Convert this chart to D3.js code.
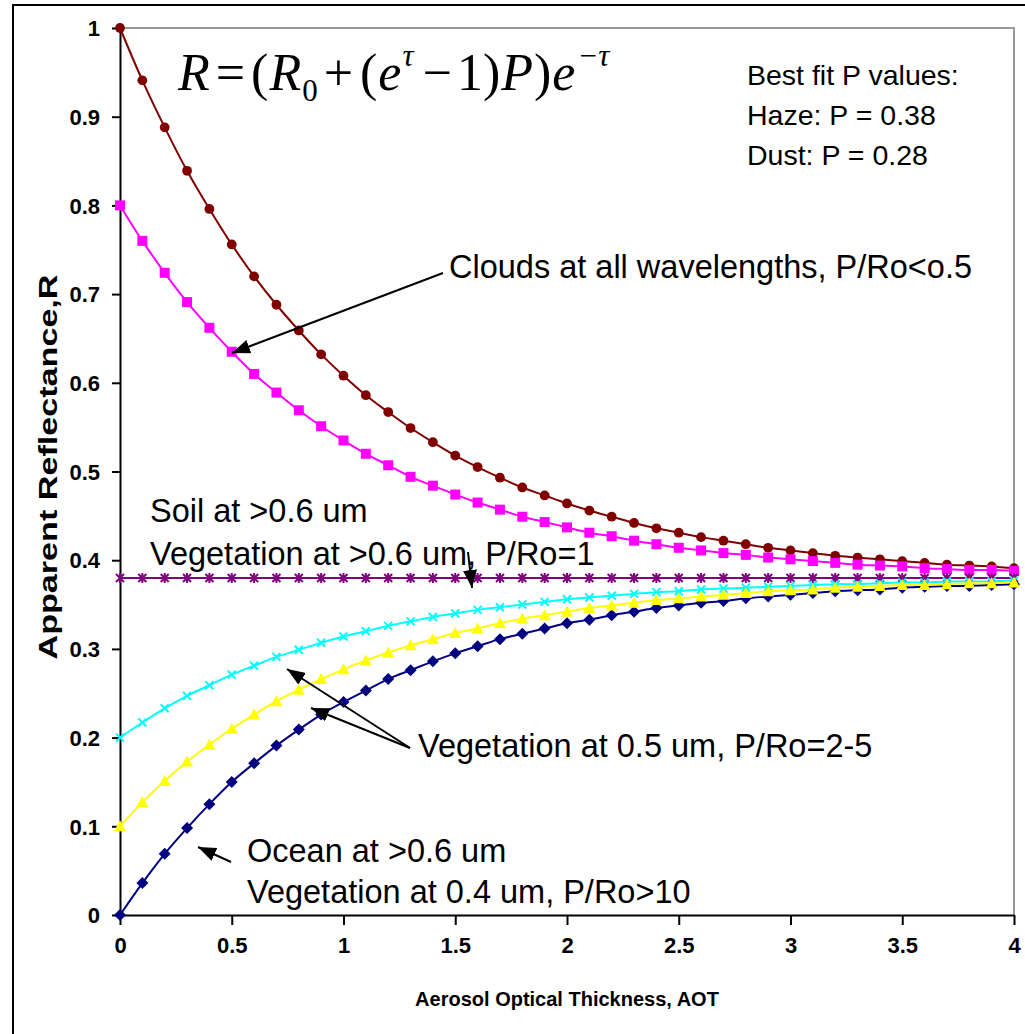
<!DOCTYPE html>
<html>
<head>
<meta charset="utf-8">
<script src="https://cdn.jsdelivr.net/npm/d3@7"></script>
<style>
	body { margin: 0; background: #fff; }
	svg text { font-family: "Liberation Sans", Arial, sans-serif; }
</style>
</head>
<body>
<div id="chart"></div>
<script>
// AOT values along the x axis
var aot = [0, 0.1, 0.2, 0.3, 0.4, 0.5, 0.6, 0.7, 0.8, 0.9, 1, 1.1, 1.2, 1.3, 1.4, 1.5, 1.6, 1.7, 1.8, 1.9,
	2, 2.1, 2.2, 2.3, 2.4, 2.5, 2.6, 2.7, 2.8, 2.9, 3, 3.1, 3.2, 3.3, 3.4, 3.5, 3.6, 3.7, 3.8, 3.9, 4];

var clouds = [1.000, 0.941, 0.888, 0.839, 0.796, 0.756, 0.720, 0.688, 0.659, 0.632, 0.608, 0.586, 0.567, 0.549,
	0.533, 0.518, 0.505, 0.493, 0.482, 0.473, 0.464, 0.456, 0.449, 0.442, 0.436, 0.431, 0.426, 0.422, 0.418,
	0.414, 0.411, 0.408, 0.405, 0.403, 0.401, 0.399, 0.397, 0.395, 0.394, 0.393, 0.391];
var bright = [0.800, 0.760, 0.724, 0.691, 0.662, 0.635, 0.610, 0.589, 0.569, 0.551, 0.535, 0.520, 0.507, 0.494,
	0.484, 0.474, 0.465, 0.457, 0.449, 0.443, 0.437, 0.431, 0.427, 0.422, 0.418, 0.414, 0.411, 0.408, 0.406,
	0.403, 0.401, 0.399, 0.397, 0.395, 0.394, 0.393, 0.391, 0.390, 0.389, 0.389, 0.388];
var soil = [0.38, 0.38, 0.38, 0.38, 0.38, 0.38, 0.38, 0.38, 0.38, 0.38, 0.38, 0.38, 0.38, 0.38, 0.38, 0.38,
	0.38, 0.38, 0.38, 0.38, 0.38, 0.38, 0.38, 0.38, 0.38, 0.38, 0.38, 0.38, 0.38, 0.38, 0.38, 0.38, 0.38,
	0.38, 0.38, 0.38, 0.38, 0.38, 0.38, 0.38, 0.38];
var veg2 = [0.200, 0.217, 0.233, 0.247, 0.259, 0.271, 0.281, 0.291, 0.299, 0.307, 0.314, 0.320, 0.326, 0.331,
	0.336, 0.340, 0.344, 0.347, 0.350, 0.353, 0.356, 0.358, 0.360, 0.362, 0.364, 0.365, 0.367, 0.368, 0.369,
	0.370, 0.371, 0.372, 0.373, 0.373, 0.374, 0.375, 0.375, 0.376, 0.376, 0.376, 0.377];
var veg5 = [0.100, 0.127, 0.151, 0.173, 0.192, 0.210, 0.226, 0.241, 0.254, 0.266, 0.277, 0.287, 0.296, 0.304,
	0.311, 0.318, 0.323, 0.329, 0.334, 0.338, 0.342, 0.346, 0.349, 0.352, 0.355, 0.357, 0.359, 0.361, 0.363,
	0.365, 0.366, 0.367, 0.369, 0.370, 0.371, 0.372, 0.372, 0.373, 0.374, 0.374, 0.375];
var ocean = [0.000, 0.036, 0.069, 0.098, 0.125, 0.150, 0.171, 0.191, 0.209, 0.226, 0.240, 0.253, 0.266, 0.276,
	0.286, 0.295, 0.303, 0.311, 0.317, 0.323, 0.329, 0.333, 0.338, 0.342, 0.346, 0.349, 0.352, 0.354, 0.357,
	0.359, 0.361, 0.363, 0.365, 0.366, 0.367, 0.369, 0.370, 0.371, 0.371, 0.372, 0.373];

var xTicks = [0, 0.5, 1, 1.5, 2, 2.5, 3, 3.5, 4];
var yTicks = [0, 0.1, 0.2, 0.3, 0.4, 0.5, 0.6, 0.7, 0.8, 0.9, 1];

var series = [
	{ values: clouds, color: "#800000", marker: "circle" },
	{ values: bright, color: "#ff00ff", marker: "square" },
	{ values: soil, color: "#800080", marker: "asterisk" },
	{ values: veg2, color: "#00ffff", marker: "x" },
	{ values: ocean, color: "#000080", marker: "diamond" },
	{ values: veg5, color: "#ffff00", marker: "triangle" }
];

var width = 1025, height = 1034;
var plot = { left: 120, right: 1014, top: 28, bottom: 915 };

var svg = d3.select("#chart").append("svg")
	.attr("width", width)
	.attr("height", height);

// outer frame
svg.append("rect")
	.attr("x", 13).attr("y", 5)
	.attr("width", width + 20).attr("height", height + 20)
	.attr("fill", "none").attr("stroke", "#000").attr("stroke-width", 2);

var x = d3.scaleLinear().domain([0, 4]).range([plot.left, plot.right]);
var y = d3.scaleLinear().domain([0, 1]).range([plot.bottom, plot.top]);

// plot area border (grey top/right)
svg.append("path")
	.attr("d", `M${x(0)},${y(1)}H${x(4)}V${y(0)}`)
	.attr("fill", "none").attr("stroke", "#999").attr("stroke-width", 2);

var xAxis = svg.append("g")
	.attr("transform", `translate(0,${y(0)})`)
	.call(d3.axisBottom(x).tickValues(xTicks).tickSize(10).tickSizeOuter(0).tickPadding(12)
		.tickFormat(d => d3.format("")(d)));
var yAxis = svg.append("g")
	.attr("transform", `translate(${x(0)},0)`)
	.call(d3.axisLeft(y).tickValues(yTicks).tickSize(8).tickSizeOuter(0).tickPadding(12)
		.tickFormat(d => d3.format("")(d)));

[xAxis, yAxis].forEach(function(g) {
	g.select(".domain").attr("stroke", "#000").attr("stroke-width", 2);
	g.selectAll(".tick line").attr("stroke", "#000").attr("stroke-width", 2);
	g.selectAll(".tick text")
		.attr("fill", "#000")
		.style("font-family", "'Liberation Sans', Arial, sans-serif")
		.style("font-size", "22px")
		.style("font-weight", "bold");
});
yAxis.selectAll(".tick text").attr("dy", "0.35em");

// axis titles
svg.append("text")
	.attr("x", 567).attr("y", 1006)
	.attr("text-anchor", "middle")
	.style("font-size", "20px").style("font-weight", "bold")
	.text("Aerosol Optical Thickness, AOT");
svg.append("text")
	.attr("transform", "translate(57,467) rotate(-90)")
	.attr("text-anchor", "middle")
	.attr("textLength", 385)
	.attr("lengthAdjust", "spacingAndGlyphs")
	.style("font-size", "25px").style("font-weight", "bold")
	.text("Apparent Reflectance,R");

var line = d3.line()
	.x((d, i) => x(aot[i]))
	.y(d => y(d))
	.curve(d3.curveCatmullRom);

var markerPath = {
	circle: d3.symbol(d3.symbolCircle, 75)(),
	square: "M-5,-5H5V5H-5Z",
	diamond: "M0,-6L6,0L0,6L-6,0Z",
	triangle: "M0,-6L6,5H-6Z",
	x: "M-4,-4L4,4M-4,4L4,-4",
	asterisk: "M-4,-4L4,4M-4,4L4,-4M0,-5V5"
};

series.forEach(function(s) {
	var g = svg.append("g");
	g.append("path")
		.attr("d", line(s.values))
		.attr("fill", "none")
		.attr("stroke", s.color)
		.attr("stroke-width", 2);
	var stroked = s.marker === "x" || s.marker === "asterisk";
	g.selectAll("path.pt")
		.data(s.values)
		.join("path")
		.attr("class", "pt")
		.attr("transform", (d, i) => `translate(${x(aot[i])},${y(d)})`)
		.attr("d", markerPath[s.marker])
		.attr("fill", stroked ? "none" : s.color)
		.attr("stroke", stroked ? s.color : "none")
		.attr("stroke-width", 2);
});

// equation: pieces placed one after another, gap = space before each piece
var eqParts = [
	{ t: "R", gap: 0, i: true },
	{ t: "=", gap: 6 },
	{ t: "(", gap: 6 },
	{ t: "R", gap: 1, i: true },
	{ t: "0", gap: 1, sub: true },
	{ t: "+", gap: 6 },
	{ t: "(", gap: 7 },
	{ t: "e", gap: 1, i: true },
	{ t: "τ", gap: 1, sup: true, i: true },
	{ t: "−", gap: 9 },
	{ t: "1", gap: 5 },
	{ t: ")", gap: 0 },
	{ t: "P", gap: 1, i: true },
	{ t: ")", gap: 1 },
	{ t: "e", gap: 1, i: true },
	{ t: "−τ", gap: 2, sup: true, i: true }
];
var eqX = 178;
var eqG = svg.append("g");
eqParts.forEach(function(p) {
	eqX += p.gap;
	var t = eqG.append("text")
		.attr("x", eqX)
		.attr("y", p.sub ? 101 : p.sup ? 66 : 90)
		.style("font-family", "'Liberation Serif', 'Times New Roman', serif")
		.style("font-size", (p.sub || p.sup) ? "31px" : "52px")
		.style("font-style", p.i ? "italic" : "normal")
		.text(p.t);
	eqX += t.node().getComputedTextLength();
});

// notes
var notes = [
	{ x: 747, y: 85, s: 28.5, t: "Best fit P values:" },
	{ x: 747, y: 125, s: 28.5, t: "Haze: P = 0.38" },
	{ x: 747, y: 165, s: 28.5, t: "Dust: P = 0.28" },
	{ x: 449, y: 278, s: 32.5, t: "Clouds at all wavelengths, P/Ro<o.5" },
	{ x: 150, y: 522, s: 32.5, t: "Soil at >0.6 um" },
	{ x: 150, y: 565, s: 32.5, t: "Vegetation at >0.6 um, P/Ro=1" },
	{ x: 418, y: 757, s: 32.5, t: "Vegetation at 0.5 um, P/Ro=2-5" },
	{ x: 247, y: 862, s: 32.5, t: "Ocean at >0.6 um" },
	{ x: 247, y: 903, s: 32.5, t: "Vegetation at 0.4 um, P/Ro>10" }
];
svg.selectAll("text.note")
	.data(notes)
	.join("text")
	.attr("class", "note")
	.attr("x", d => d.x).attr("y", d => d.y)
	.style("font-size", d => d.s + "px")
	.text(d => d.t);

// arrows
svg.append("defs").append("marker")
	.attr("id", "head")
	.attr("viewBox", "0 0 18 14")
	.attr("refX", 18).attr("refY", 7)
	.attr("markerWidth", 18).attr("markerHeight", 14)
	.attr("markerUnits", "userSpaceOnUse")
	.attr("orient", "auto")
	.append("path").attr("d", "M0,0L18,7L0,14z").attr("fill", "#000");

var arrows = [
	[443, 273, 232, 353],
	[468, 552, 472, 588],
	[410, 748, 287, 669],
	[410, 748, 311, 708],
	[231, 862, 198, 847]
];
svg.selectAll("line.arrow")
	.data(arrows)
	.join("line")
	.attr("class", "arrow")
	.attr("x1", d => d[0]).attr("y1", d => d[1])
	.attr("x2", d => d[2]).attr("y2", d => d[3])
	.attr("stroke", "#000").attr("stroke-width", 2)
	.attr("marker-end", "url(#head)");
</script>
</body>
</html>
